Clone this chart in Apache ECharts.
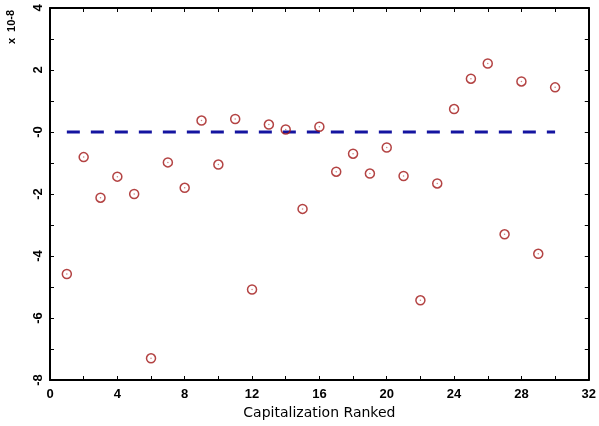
<!DOCTYPE html>
<html>
<head>
<meta charset="utf-8">
<script src="https://cdn.jsdelivr.net/npm/echarts@6/dist/echarts.min.js"></script>
<style>html,body{margin:0;padding:0;background:#fff}#c{width:599px;height:426px}</style>
</head>
<body>
<div id="c"></div>
<script>
var ranks = [1,2,3,4,5,6,7,8,9,10,11,12,13,14,15,16,17,18,19,20,21,22,23,24,25,26,27,28,29,30];
var values = [-4.58,-0.81,-2.12,-1.44,-2.0,-7.30,-0.98,-1.80,0.37,-1.05,0.42,-5.08,0.24,0.08,-2.48,0.17,-1.28,-0.70,-1.34,-0.50,-1.42,-5.43,-1.66,0.74,1.72,2.21,-3.30,1.63,-3.93,1.44];
var refLineX = [1, 30];
var refLineY = [0, 0];
var xTickLabels = {0:'0',4:'4',8:'8',12:'12',16:'16',20:'20',24:'24',28:'28',32:'32'};
var yTickLabels = {'-8':'-8','-6':'-6','-4':'-4','-2':'-2','0':'-0','2':'2','4':'4'};
var xTitle = 'Capitalization Ranked';
var unitText = 'x  10';
var unitExp = '-8';

var chart = echarts.init(document.getElementById('c'), null, {renderer:'canvas'});
var fontFam = '"Liberation Sans", Arial, sans-serif';
var axisCommon = {
  axisLine:{show:true,onZero:false,lineStyle:{color:'#000',width:2}},
  axisTick:{show:true,inside:true,length:4,lineStyle:{color:'#000',width:1}},
  splitLine:{show:false}
};
var scatterData = ranks.map(function(r,i){return [r, values[i]];});
var lineData = refLineX.map(function(x,i){return [x, refLineY[i]];});
chart.setOption({
  animation:false,
  grid:{left:50,right:10,top:8,bottom:46},
  xAxis:[
    Object.assign({type:'value',min:0,max:32,interval:2,position:'bottom',
      name:xTitle,nameLocation:'middle',nameGap:24,
      nameTextStyle:{fontFamily:'"DejaVu Sans", sans-serif',fontSize:14,color:'#000'},
      axisLabel:{margin:8,fontFamily:fontFam,fontSize:13,fontWeight:'bold',color:'#000',
        formatter:function(v){return xTickLabels[v]!==undefined?xTickLabels[v]:'';}}
    },axisCommon),
    Object.assign({type:'value',min:0,max:32,interval:2,position:'top',axisLabel:{show:false}},axisCommon)
  ],
  yAxis:[
    Object.assign({type:'value',min:-8,max:4,interval:1,position:'left',
      axisLabel:{margin:5,rotate:90,fontFamily:fontFam,fontSize:13,fontWeight:'bold',color:'#000',
        formatter:function(v){var k=String(Math.round(v));return yTickLabels[k]!==undefined?yTickLabels[k]:'';}}
    },axisCommon),
    Object.assign({type:'value',min:-8,max:4,interval:1,position:'right',axisLabel:{show:false}},axisCommon)
  ],
  graphic:[{
    type:'text',x:12,y:27,rotation:Math.PI/2,
    style:{text:unitText+'{s|'+unitExp+'}',rich:{s:{fontSize:11,fontWeight:'bold',fontFamily:fontFam,fill:'#000',padding:[0,0,2,0]}},
      fontFamily:fontFam,fontSize:11,fontWeight:'bold',fill:'#000',align:'center',verticalAlign:'middle'}
  }],
  series:[
    {type:'line',data:lineData,showSymbol:false,symbol:'none',
     lineStyle:{color:'#1414a0',width:3,type:[13,11]},z:2},
    {type:'scatter',data:scatterData,symbol:'circle',symbolSize:9,
     itemStyle:{color:'rgba(0,0,0,0)',borderColor:'#a01414',borderWidth:1.5},z:3},
    {type:'scatter',data:scatterData,symbol:'circle',symbolSize:1.5,
     itemStyle:{color:'#c06060'},z:4,silent:true}
  ]
});
</script>
</body>
</html>
